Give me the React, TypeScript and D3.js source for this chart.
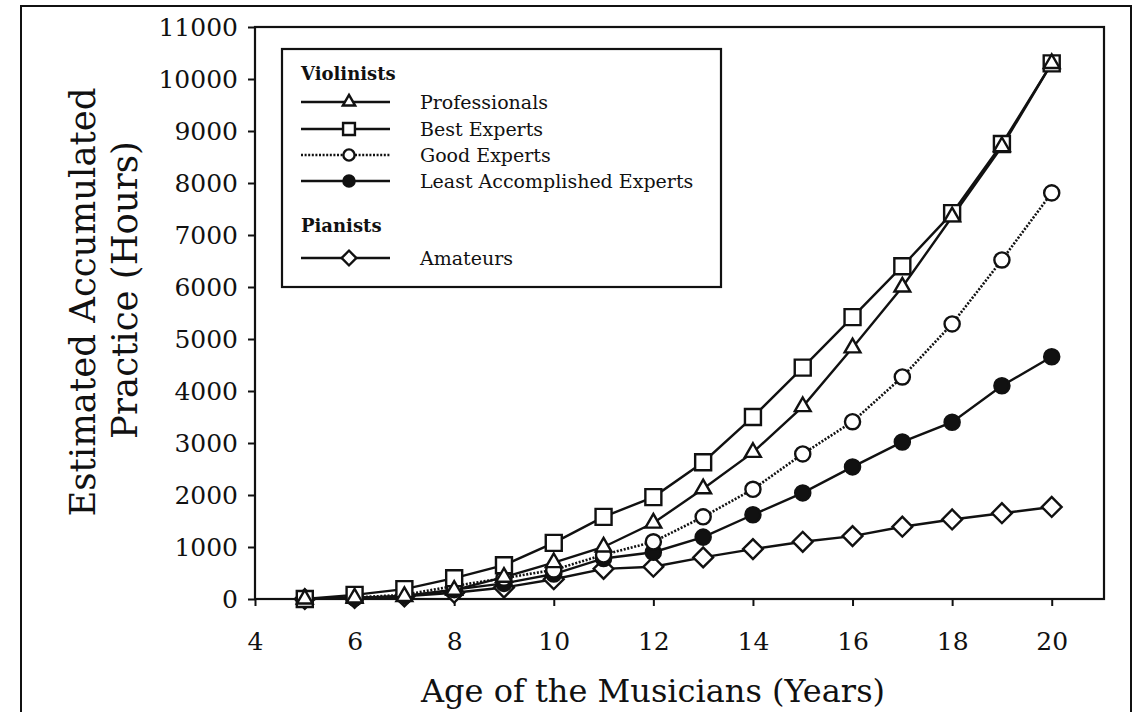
import { useEffect, useRef } from 'react';
import * as d3 from 'd3';

const ages = [5, 6, 7, 8, 9, 10, 11, 12, 13, 14, 15, 16, 17, 18, 19, 20];
const professionals = [0, 20, 50, 170, 420, 700, 1000, 1460, 2120, 2820, 3700, 4830, 6000, 7350, 8700, 10300];
const bestExperts = [0, 80, 190, 400, 650, 1080, 1580, 1960, 2630, 3500, 4450, 5420, 6400, 7420, 8750, 10300];
const goodExperts = [0, 30, 80, 250, 400, 560, 850, 1100, 1580, 2110, 2790, 3410, 4270, 5290, 6520, 7810];
const leastAccomplished = [0, 20, 60, 180, 300, 480, 780, 900, 1190, 1620, 2040, 2540, 3020, 3400, 4100, 4660];
const amateurs = [0, 20, 50, 120, 220, 380, 580, 620, 800, 960, 1100, 1210, 1390, 1530, 1650, 1770];

const xTicks = [4, 6, 8, 10, 12, 14, 16, 18, 20];
const yTicks = [0, 1000, 2000, 3000, 4000, 5000, 6000, 7000, 8000, 9000, 10000, 11000];

type Shape = 'triangle' | 'square' | 'circle' | 'filled' | 'diamond';

interface Series {
  name: string;
  values: number[];
  shape: Shape;
  dotted: boolean;
}

const violinists: Series[] = [
  { name: 'Professionals', values: professionals, shape: 'triangle', dotted: false },
  { name: 'Best Experts', values: bestExperts, shape: 'square', dotted: false },
  { name: 'Good Experts', values: goodExperts, shape: 'circle', dotted: true },
  { name: 'Least Accomplished Experts', values: leastAccomplished, shape: 'filled', dotted: false },
];
const pianists: Series[] = [
  { name: 'Amateurs', values: amateurs, shape: 'diamond', dotted: false },
];

const FONT = '"DejaVu Serif", "Liberation Serif", serif';
const INK = '#111';

function symbolPath(shape: Shape, scale = 1): string {
  switch (shape) {
    case 'triangle':
      return d3.symbol(d3.symbolTriangle, 120 * scale)()!;
    case 'square':
      return d3.symbol(d3.symbolSquare, 256 * scale)()!;
    case 'diamond':
      return d3.symbol(d3.symbolSquare, 196 * scale)()!;
    default:
      return d3.symbol(d3.symbolCircle, 180 * scale)()!;
  }
}

function drawMarker(g: d3.Selection<SVGGElement, unknown, null, undefined>, shape: Shape, cx: number, cy: number, scale = 1) {
  g.append('path')
    .attr('d', symbolPath(shape, scale))
    .attr('transform', `translate(${cx},${cy})${shape === 'diamond' ? ' rotate(45)' : ''}`)
    .attr('fill', shape === 'filled' ? INK : '#fff')
    .attr('stroke', INK)
    .attr('stroke-width', 2.4);
}

const App = () => {
  const ref = useRef<SVGSVGElement>(null);

  useEffect(() => {
    const W = 1137;
    const H = 712;
    const margin = { top: 27, right: 33, bottom: 113, left: 255 };
    const width = W - margin.left - margin.right;
    const height = H - margin.top - margin.bottom;

    const svg = d3.select(ref.current!);
    svg.selectAll('*').remove();

    // outer border of the figure
    svg.append('rect')
      .attr('x', 21).attr('y', 6)
      .attr('width', 1110).attr('height', 720)
      .attr('fill', 'none').attr('stroke', INK).attr('stroke-width', 2);

    const x = d3.scaleLinear().domain([4, 21.05]).range([0, width]);
    const y = d3.scaleLinear().domain([0, 11000]).range([height, 0]);

    const g = svg.append('g').attr('transform', `translate(${margin.left},${margin.top})`);

    // frame
    g.append('rect')
      .attr('width', width).attr('height', height)
      .attr('fill', 'none').attr('stroke', INK).attr('stroke-width', 2.2);

    const xAxis = g.append('g')
      .attr('transform', `translate(0,${height})`)
      .call(d3.axisBottom(x).tickValues(xTicks).tickSize(7).tickPadding(26).tickFormat(d3.format('d')));
    const yAxis = g.append('g')
      .call(d3.axisLeft(y).tickValues(yTicks).tickSize(7).tickPadding(10).tickFormat(d3.format('d')));

    [xAxis, yAxis].forEach(a => {
      a.select('.domain').remove();
      a.selectAll('line').attr('stroke', INK).attr('stroke-width', 2);
      a.selectAll('text')
        .attr('fill', INK)
        .style('font-family', FONT)
        .style('font-size', '25px');
    });

    const line = d3.line<number>()
      .x((_, i) => x(ages[i]))
      .y(d => y(d));

    // draw back to front so professionals' triangles sit on the squares
    const order = [pianists[0], violinists[3], violinists[2], violinists[1], violinists[0]];
    order.forEach(s => {
      g.append('path')
        .datum(s.values)
        .attr('fill', 'none')
        .attr('stroke', INK)
        .attr('stroke-width', s.dotted ? 2.6 : 2.4)
        .attr('stroke-dasharray', s.dotted ? '2,1.6' : null)
        .attr('d', line);
    });
    order.forEach(s => {
      s.values.forEach((v, i) => drawMarker(g, s.shape, x(ages[i]), y(v), s.shape === 'triangle' ? 0.9 : 1));
    });

    // axis titles
    svg.append('text')
      .attr('x', 653).attr('y', 702)
      .attr('text-anchor', 'middle')
      .style('font-family', FONT).style('font-size', '32px').attr('fill', INK)
      .text('Age of the Musicians (Years)');

    const yTitle = svg.append('g').attr('transform', 'rotate(-90)');
    yTitle.append('text')
      .attr('x', -302).attr('y', 95)
      .attr('text-anchor', 'middle')
      .style('font-family', FONT).style('font-size', '35.5px').attr('fill', INK)
      .text('Estimated Accumulated');
    yTitle.append('text')
      .attr('x', -290).attr('y', 137)
      .attr('text-anchor', 'middle')
      .style('font-family', FONT).style('font-size', '35.5px').attr('fill', INK)
      .text('Practice (Hours)');

    // legend
    const leg = svg.append('g');
    leg.append('rect')
      .attr('x', 282).attr('y', 49)
      .attr('width', 439).attr('height', 238)
      .attr('fill', '#fff').attr('stroke', INK).attr('stroke-width', 2.2);

    const rows: { header?: string; series?: Series; y: number }[] = [
      { header: 'Violinists', y: 80 },
      { series: violinists[0], y: 102 },
      { series: violinists[1], y: 129 },
      { series: violinists[2], y: 155 },
      { series: violinists[3], y: 181 },
      { header: 'Pianists', y: 232 },
      { series: pianists[0], y: 258 },
    ];
    rows.forEach(r => {
      if (r.header) {
        leg.append('text')
          .attr('x', 301).attr('y', r.y)
          .style('font-family', FONT).style('font-size', '18px').style('font-weight', 'bold')
          .attr('fill', INK)
          .text(r.header);
      } else if (r.series) {
        leg.append('line')
          .attr('x1', 301).attr('x2', 390)
          .attr('y1', r.y).attr('y2', r.y)
          .attr('stroke', INK).attr('stroke-width', 2.4)
          .attr('stroke-dasharray', r.series.dotted ? '2,1.6' : null);
        drawMarker(leg as any, r.series.shape, 349, r.y, 0.55);
        leg.append('text')
          .attr('x', 420).attr('y', r.y + 7)
          .style('font-family', FONT).style('font-size', '19px')
          .attr('fill', INK)
          .text(r.series.name);
      }
    });
  }, []);

  return (
    <svg
      ref={ref}
      width={1137}
      height={712}
      style={{ position: 'absolute', left: 0, top: 0, background: '#fff' }}
    />
  );
};

export default App;
